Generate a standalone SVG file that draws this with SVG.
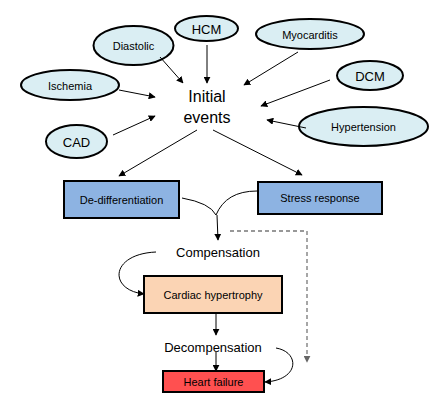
<svg xmlns="http://www.w3.org/2000/svg" width="442" height="405" viewBox="0 0 442 405">
<defs>
<marker id="ah" viewBox="0 0 10 10" refX="9" refY="5" markerWidth="7" markerHeight="7" orient="auto" markerUnits="userSpaceOnUse"><path d="M0,0 L10,5 L0,10 z" fill="#000"/></marker>
<marker id="ahg" viewBox="0 0 10 10" refX="9" refY="5" markerWidth="7" markerHeight="7" orient="auto" markerUnits="userSpaceOnUse"><path d="M0,0 L10,5 L0,10 z" fill="#666"/></marker>
<style>
text{font-family:"Liberation Sans","DejaVu Sans",sans-serif;fill:#000;text-anchor:middle;dominant-baseline:central}
.el{fill:#DAEEF3;stroke:#000;stroke-width:2}
.bx{stroke:#000;stroke-width:2}
.c{fill:none;stroke:#000;stroke-width:1;marker-end:url(#ah)}
.cn{fill:none;stroke:#000;stroke-width:1}
.s{font-size:11px}
</style>
</defs>
<rect width="442" height="405" fill="#fff"/>
<g id="diastolic"><ellipse class="el" cx="133.5" cy="45.5" rx="40" ry="19.5"/><text class="s" x="133.5" y="46">Diastolic</text></g>
<g id="hcm"><ellipse class="el" cx="206.5" cy="28.5" rx="31.5" ry="12.5"/><text x="206.5" y="29" font-size="13">HCM</text></g>
<g id="ischemia"><ellipse class="el" cx="70" cy="85" rx="49" ry="15"/><text class="s" x="70" y="85.5">Ischemia</text></g>
<g id="cad"><ellipse class="el" cx="76.5" cy="141.5" rx="30.5" ry="16.5"/><text x="76.5" y="142" font-size="13">CAD</text></g>
<g id="myocarditis"><ellipse class="el" cx="310" cy="34" rx="54" ry="15"/><text class="s" x="310" y="34.5">Myocarditis</text></g>
<g id="dcm"><ellipse class="el" cx="370" cy="75.5" rx="33" ry="14.5"/><text x="370" y="76" font-size="13">DCM</text></g>
<g id="hypertension"><ellipse class="el" cx="363.5" cy="126.5" rx="64.5" ry="19.5"/><text class="s" x="363.5" y="127">Hypertension</text></g>
<g id="initial"><text x="207" y="96" font-size="16">Initial</text><text x="207" y="117" font-size="16">events</text></g>
<g id="dediff"><rect class="bx" x="64" y="181" width="115" height="37" fill="#8DB3E2"/><text class="s" x="121.5" y="199.5">De-differentiation</text></g>
<g id="stress"><rect class="bx" x="258" y="182" width="124" height="32" fill="#8DB3E2"/><text class="s" x="320" y="198">Stress response</text></g>
<g id="compensation"><text x="218" y="252" font-size="13">Compensation</text></g>
<g id="hypertrophy"><rect class="bx" x="144" y="276" width="138" height="37" fill="#FBD4B4"/><text class="s" x="213" y="294.5">Cardiac hypertrophy</text></g>
<g id="decompensation"><text x="213" y="347" font-size="13">Decompensation</text></g>
<g id="heartfailure"><rect class="bx" x="163" y="371" width="101" height="21" fill="#FF5050"/><text class="s" x="213.5" y="381.5">Heart failure</text></g>
<g id="connectors">
<line class="c" x1="160" y1="57" x2="183" y2="83"/>
<line class="c" x1="207" y1="45" x2="207" y2="83"/>
<line class="c" x1="119" y1="90" x2="155" y2="97"/>
<line class="c" x1="113" y1="135" x2="155" y2="116"/>
<line class="c" x1="298" y1="52" x2="244" y2="85"/>
<line class="c" x1="330" y1="80" x2="261" y2="106"/>
<line class="c" x1="306" y1="128" x2="267" y2="120"/>
<line class="c" x1="197" y1="130" x2="119" y2="176"/>
<line class="c" x1="213" y1="130" x2="302" y2="175"/>
<path class="cn" d="M182,198 Q210,203 216,215"/>
<path class="cn" d="M257,191 Q226,191 216,215"/>
<line class="c" x1="217" y1="215" x2="218" y2="240"/>
<path fill="none" stroke="#777" stroke-width="1.3" stroke-dasharray="4,3" marker-end="url(#ahg)" d="M230,231 H307 V362"/>
<path class="c" d="M156,252 C110,254 108,290 144,294"/>
<line class="c" x1="216" y1="313" x2="216" y2="335"/>
<line class="c" x1="216" y1="352" x2="216" y2="371"/>
<path class="c" d="M276,348 C300,352 300,380 265,382"/>
</g>
</svg>
